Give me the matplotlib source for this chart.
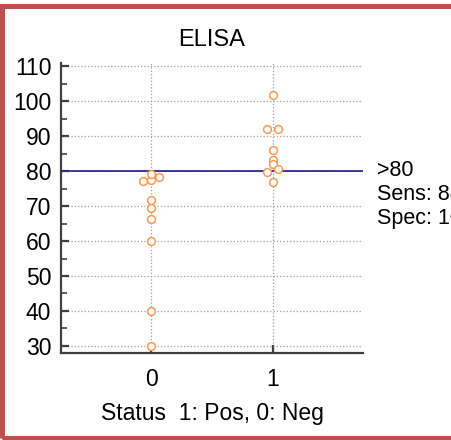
import matplotlib.pyplot as plt
from matplotlib.patches import Rectangle
from matplotlib.ticker import MultipleLocator

plt.rcParams['font.family'] = ['Liberation Sans', 'DejaVu Sans']

# ELISA values per status group (0: Neg, 1: Pos), with small side offsets for overlapping dots
neg_values = [30, 40, 60, 66.2, 69.4, 71.8, 77.2, 77.4, 78.4, 79.3]
neg_offset = [0, 0, 0, 0, 0, 0, -0.063, 0, 0.068, 0]
pos_values = [101.8, 92.1, 92.1, 86.2, 83.3, 82.0, 80.5, 79.8, 76.9]
pos_offset = [0, -0.045, 0.045, 0, 0, 0, 0.045, -0.045, 0]
cutoff = 80
notes = ['>80', 'Sens: 88.9', 'Spec: 100.0']

fig = plt.figure(figsize=(4.52, 4.4), dpi=100)
ax = fig.add_axes([0.135, 0.198, 0.668, 0.659])

dot = dict(marker='o', linestyle='none', markersize=5.6, markerfacecolor='white',
           markeredgecolor='#FF9950', markeredgewidth=1.1, zorder=4)
ax.plot([0 + o for o in neg_offset], neg_values, **dot)
ax.plot([1 + o for o in pos_offset], pos_values, **dot)

ax.axhline(cutoff, color='#2B2C8C', linewidth=1.3, zorder=3)

ax.set_xlim(-0.74, 1.74)
ax.set_ylim(28, 111)
ax.set_xticks([0, 1])
ax.yaxis.set_major_locator(MultipleLocator(10))
ax.yaxis.set_minor_locator(MultipleLocator(5))
ax.grid(True, color='#A0A0A0', linestyle=':', linewidth=0.9)
ax.set_axisbelow(True)

for side in ['top', 'right']:
    ax.spines[side].set_visible(False)
for side in ['left', 'bottom']:
    ax.spines[side].set_linewidth(1.6)
    ax.spines[side].set_color('#404040')

ax.tick_params(axis='both', which='major', direction='in', length=6, width=1.6,
               color='#404040', labelsize=16.5)
ax.tick_params(axis='x', which='major', pad=11)
ax.tick_params(axis='y', which='major', pad=7)
ax.tick_params(axis='y', which='minor', direction='in', length=4, width=1.2, color='#404040')
ax.tick_params(axis='x', which='minor', length=0)

ax.set_title('ELISA', fontsize=17, pad=12)
ax.set_xlabel('Status  1: Pos, 0: Neg', fontsize=16.5, labelpad=8)

for i, t in enumerate(notes):
    fig.text(377 / 452, 1 - (170 + i * 24) / 440, t, fontsize=15.5, va='center', ha='left')

fig.patches.append(Rectangle((2.5 / 452, 2.5 / 440), 1.1, 431 / 440, transform=fig.transFigure,
                             fill=False, edgecolor='#C0504D', linewidth=3.6))

plt.savefig('out.png', dpi=100)
